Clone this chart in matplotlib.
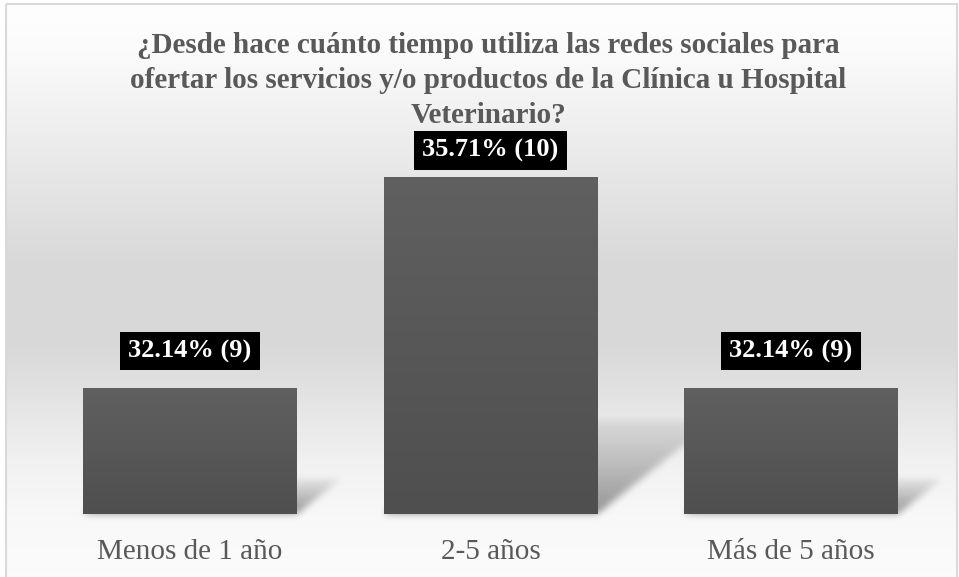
import numpy as np
import matplotlib
matplotlib.use("Agg")
import matplotlib.pyplot as plt
from matplotlib.patches import Rectangle
from matplotlib.path import Path

# --- data ---
categories = ["Menos de 1 año", "2-5 años", "Más de 5 años"]
percentages = [32.14, 35.71, 32.14]
counts = [9, 10, 9]
title = ("¿Desde hace cuánto tiempo utiliza las redes sociales para\n"
         "ofertar los servicios y/o productos de la Clínica u Hospital\n"
         "Veterinario?")

W, H = 959, 577
DPI = 100
SERIF = ["Liberation Serif", "DejaVu Serif"]
TEXT_GREY = "#595959"

fig = plt.figure(figsize=(W / DPI, H / DPI), dpi=DPI)
fig.patch.set_facecolor("white")

# background axes covering the whole figure (pixel coordinates, y downwards)
bg = fig.add_axes([0, 0, 1, 1], zorder=0)
bg.set_xlim(0, W)
bg.set_ylim(H, 0)
bg.axis("off")

# vertical grey gradient of the chart area
stops_pos = [0.0, 0.08, 0.45, 0.60, 0.80, 0.90, 1.0]
stops_val = [0.995, 0.985, 0.850, 0.850, 0.945, 0.975, 0.985]
col = np.interp(np.linspace(0, 1, H), stops_pos, stops_val)
grad = np.repeat(col[:, None], 2, axis=1)
bg.imshow(np.dstack([grad, grad, grad]), extent=[6, 957, H, 4],
          aspect="auto", interpolation="bilinear", zorder=0)
bg.add_patch(Rectangle((5.5, 4), 951.5, H + 10, fill=False,
                       edgecolor="#d9d9d9", linewidth=1.5, zorder=5))

# main plotting axes
ax = fig.add_axes([39.75 / W, 1 - 514 / H, 901.5 / W, 354.6 / H], zorder=2)
ax.patch.set_alpha(0)
x = np.arange(len(categories))
bars = ax.bar(x, [p - 30 for p in percentages], bottom=30, width=0.712,
              color="#575757", zorder=2)
ax.set_xlim(-0.5, len(categories) - 0.5)
ax.set_ylim(30, 36)
for s in ax.spines.values():
    s.set_visible(False)
ax.set_yticks([])
ax.set_xticks(x)
ax.set_xticklabels(categories, family=SERIF, fontsize=21, color=TEXT_GREY)
ax.tick_params(axis="x", length=0, pad=18)

# vertical shading inside each bar
bar_grad = np.linspace(0.376, 0.310, 64)[:, None]
bar_img = np.dstack([bar_grad, bar_grad, bar_grad])
for p in bars:
    x0, y0, w, h = p.get_x(), p.get_y(), p.get_width(), p.get_height()
    im = ax.imshow(bar_img, extent=[x0, x0 + w, y0, y0 + h], aspect="auto",
                   interpolation="bilinear", zorder=3)
    im.set_clip_path(p)
ax.set_xlim(-0.5, len(categories) - 0.5)
ax.set_ylim(30, 36)

# soft perspective shadows cast behind the bars
yy, xx = np.mgrid[0:H, 0:W]
pts = np.column_stack([xx.ravel() + 0.5, yy.ravel() + 0.5])
alpha = np.zeros(H * W)
for p in bars:
    (px0, pb), (px1, pt) = ax.transData.transform(
        [(p.get_x(), p.get_y()), (p.get_x() + p.get_width(), p.get_y() + p.get_height())])
    pb, pt = H - pb, H - pt
    hgt = pb - pt
    dx, dy = 0.35 * hgt, 0.28 * hgt
    poly = Path([(px0, pb), (px1, pb), (px1 + dx, pb - dy), (px0 + dx, pb - dy), (px0, pb)])
    inside = poly.contains_points(pts)
    frac = np.clip((pb - pts[:, 1]) / dy, 0, 1)
    alpha = np.maximum(alpha, np.where(inside, 0.40 * (1 - 0.85 * frac), 0))
alpha = alpha.reshape(H, W)
k = np.exp(-0.5 * (np.arange(-9, 10) / 3.5) ** 2)
k /= k.sum()
alpha = np.apply_along_axis(lambda r: np.convolve(r, k, mode="same"), 1, alpha)
alpha = np.apply_along_axis(lambda c: np.convolve(c, k, mode="same"), 0, alpha)
shadow = np.zeros((H, W, 4))
shadow[..., 3] = alpha
bg.imshow(shadow, extent=[0, W, H, 0], aspect="auto", interpolation="bilinear", zorder=1)

# value labels in black boxes (the tallest bar's label sits closer to its bar)
label_offsets = [18.0, 10.2, 18.0]
for p, pct, n, off in zip(bars, percentages, counts, label_offsets):
    cx = p.get_x() + p.get_width() / 2
    ax.annotate(f"{pct:.2f}% ({n})", xy=(cx, p.get_y() + p.get_height()),
                xytext=(0, off), textcoords="offset points", ha="center", va="bottom",
                family=SERIF, fontsize=19, fontweight="bold", color="white",
                bbox=dict(boxstyle="square,pad=0.3", facecolor="black", edgecolor="none"),
                zorder=6, annotation_clip=False)

fig.text(488 / W, 1 - 32 / H, title, ha="center", va="top", family=SERIF,
         fontsize=21, fontweight="bold", color=TEXT_GREY, linespacing=1.38)

fig.savefig("out.png", dpi=DPI)
